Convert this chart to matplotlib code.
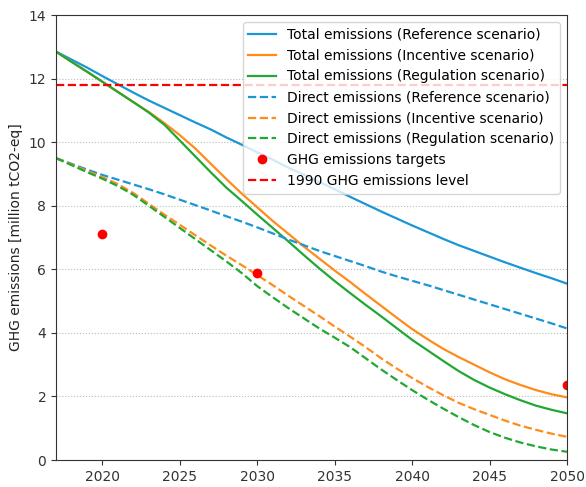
import matplotlib
matplotlib.use("Agg")
import matplotlib.pyplot as plt

years = list(range(2017, 2051))

total_reference = [12.85, 12.6, 12.35, 12.08, 11.82, 11.56, 11.31, 11.08, 10.85, 10.62,
                   10.4, 10.15, 9.92, 9.68, 9.45, 9.2, 8.98, 8.75, 8.52, 8.28,
                   8.05, 7.82, 7.6, 7.38, 7.17, 6.96, 6.76, 6.58, 6.4, 6.22,
                   6.05, 5.88, 5.72, 5.55]
total_incentive = [12.85, 12.53, 12.22, 11.9, 11.58, 11.26, 10.95, 10.6, 10.22, 9.8,
                   9.32, 8.84, 8.38, 7.95, 7.52, 7.12, 6.72, 6.34, 5.96, 5.6,
                   5.22, 4.85, 4.48, 4.12, 3.8, 3.5, 3.24, 3.0, 2.76, 2.54,
                   2.36, 2.2, 2.07, 1.97]
total_regulation = [12.85, 12.53, 12.22, 11.9, 11.58, 11.26, 10.93, 10.55, 10.05, 9.55,
                    9.05, 8.57, 8.15, 7.72, 7.3, 6.88, 6.45, 6.03, 5.63, 5.25,
                    4.88, 4.52, 4.15, 3.78, 3.45, 3.12, 2.8, 2.52, 2.28, 2.07,
                    1.88, 1.71, 1.58, 1.47]
direct_reference = [9.5, 9.32, 9.14, 8.97, 8.82, 8.67, 8.52, 8.36, 8.19, 8.02,
                    7.85, 7.67, 7.5, 7.32, 7.13, 6.94, 6.76, 6.58, 6.42, 6.26,
                    6.1, 5.93, 5.78, 5.64, 5.5, 5.35, 5.2, 5.05, 4.9, 4.75,
                    4.6, 4.45, 4.3, 4.14]
direct_incentive = [9.5, 9.3, 9.1, 8.9, 8.68, 8.4, 8.06, 7.72, 7.4, 7.07,
                    6.75, 6.43, 6.13, 5.82, 5.5, 5.17, 4.85, 4.53, 4.2, 3.88,
                    3.55, 3.2, 2.88, 2.58, 2.3, 2.04, 1.8, 1.6, 1.42, 1.24,
                    1.08, 0.95, 0.83, 0.73]
direct_regulation = [9.5, 9.28, 9.06, 8.85, 8.62, 8.34, 8.0, 7.65, 7.3, 6.95,
                     6.6, 6.25, 5.88, 5.47, 5.12, 4.78, 4.46, 4.14, 3.85, 3.55,
                     3.2, 2.85, 2.52, 2.2, 1.9, 1.62, 1.35, 1.1, 0.88, 0.7,
                     0.55, 0.43, 0.33, 0.26]

target_years = [2020, 2030, 2050]
target_values = [7.1, 5.9, 2.36]
level_1990 = 11.8

c_blue = "#1b96d4"
c_orange = "#ff8c1a"
c_green = "#21a833"

fig = plt.figure(figsize=(5.86, 4.87), dpi=100)
ax = fig.add_axes([0.0956, 0.0554, 0.872, 0.9136])

ax.plot(years, total_reference, color=c_blue, lw=1.6, label="Total emissions (Reference scenario)")
ax.plot(years, total_incentive, color=c_orange, lw=1.6, label="Total emissions (Incentive scenario)")
ax.plot(years, total_regulation, color=c_green, lw=1.6, label="Total emissions (Regulation scenario)")
ax.plot(years, direct_reference, color=c_blue, lw=1.6, ls="--", label="Direct emissions (Reference scenario)")
ax.plot(years, direct_incentive, color=c_orange, lw=1.6, ls="--", label="Direct emissions (Incentive scenario)")
ax.plot(years, direct_regulation, color=c_green, lw=1.6, ls="--", label="Direct emissions (Regulation scenario)")
ax.plot(target_years, target_values, "o", color="red", ms=6, label="GHG emissions targets")
ax.axhline(level_1990, color="red", ls="--", lw=1.6, label="1990 GHG emissions level")

ax.set_xlim(2017, 2050)
ax.set_ylim(0, 14)
ax.set_xticks([2020, 2025, 2030, 2035, 2040, 2045, 2050])
ax.set_yticks([0, 2, 4, 6, 8, 10, 12, 14])
ax.yaxis.grid(True, ls=":", color="#bbbbbb", lw=0.8)
ax.set_axisbelow(True)
for s in ax.spines.values():
    s.set_color("#333333")
ax.tick_params(colors="#333333", labelsize=10)
ax.set_ylabel("GHG emissions [million tCO2-eq]", fontsize=10, color="#222222")

leg = ax.legend(loc="upper right", fontsize=10, framealpha=0.8, edgecolor="#cccccc")

fig.savefig("out.png", dpi=100)
